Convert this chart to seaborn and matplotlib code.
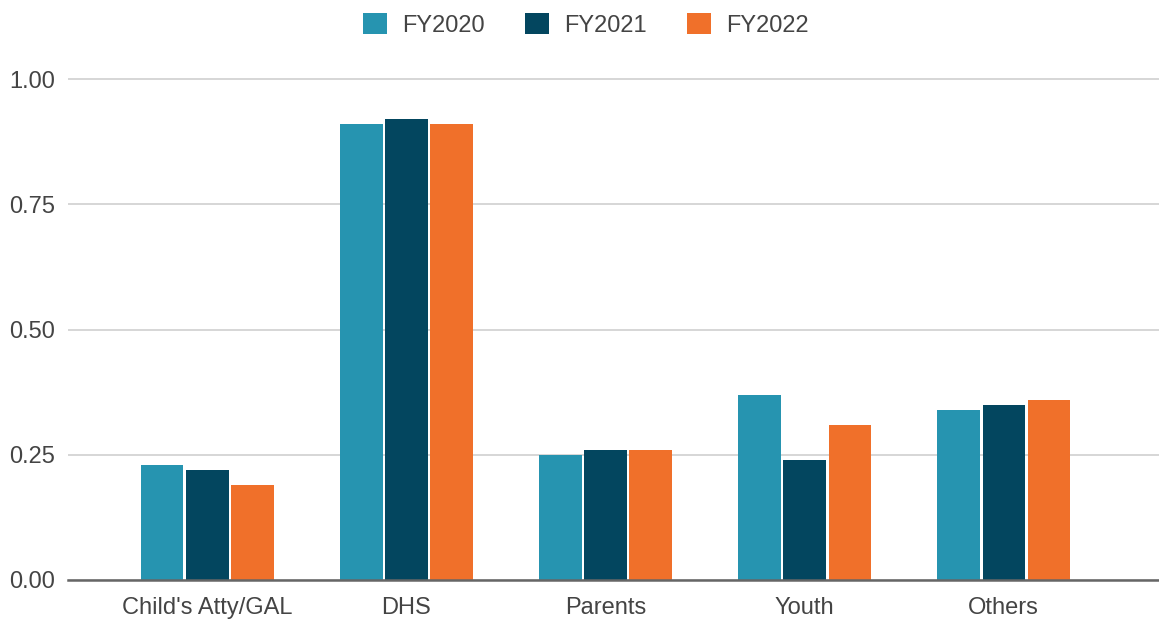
import matplotlib
matplotlib.use("Agg")
import matplotlib.pyplot as plt
import seaborn as sns
import pandas as pd

categories = ["Child's Atty/GAL", "DHS", "Parents", "Youth", "Others"]
years = ["FY2020", "FY2021", "FY2022"]
fy2020 = [0.23, 0.91, 0.25, 0.37, 0.34]
fy2021 = [0.22, 0.92, 0.26, 0.24, 0.35]
fy2022 = [0.19, 0.91, 0.26, 0.31, 0.36]
colors = ["#2694b0", "#03465f", "#f0702a"]

rows = []
for yr, vals in zip(years, [fy2020, fy2021, fy2022]):
    for c, v in zip(categories, vals):
        rows.append({"cat": c, "year": yr, "val": v})
df = pd.DataFrame(rows)

sns.set_theme(style="white")
plt.rcParams['font.family'] = ['Liberation Sans', 'DejaVu Sans']

fig = plt.figure(figsize=(11.59, 6.19), dpi=100)
ax = fig.add_axes([68/1159, (619-580)/619, (1159-68)/1159, (580-59)/619])

sns.barplot(data=df, x="cat", y="val", hue="year", order=categories,
            hue_order=years, palette=colors, width=0.68, gap=0.06,
            saturation=1, ax=ax, edgecolor="none")

ax.set_xlim(-0.70, 4.78)
ax.set_ylim(0, 1.04)
ax.set_yticks([0, 0.25, 0.5, 0.75, 1.0])
ax.set_yticklabels(["0.00", "0.25", "0.50", "0.75", "1.00"])
ax.yaxis.grid(True, color="#d0d0d0", linewidth=1.2)
ax.set_axisbelow(True)
for s in ["top", "right", "left"]:
    ax.spines[s].set_visible(False)
ax.spines["bottom"].set_color("#666666")
ax.spines["bottom"].set_linewidth(1.8)
ax.tick_params(axis="both", length=0, labelsize=17, labelcolor="#444444")
ax.tick_params(axis="y", pad=9)
ax.tick_params(axis="x", pad=12)
ax.set_xlabel("")
ax.set_ylabel("")

leg = ax.legend(loc="center", bbox_to_anchor=(586/1159, 1 - 25/619),
                bbox_transform=fig.transFigure,
                ncol=3, frameon=False, fontsize=17, handlelength=1.0, handleheight=1.0,
                columnspacing=1.7, handletextpad=0.65)
for t in leg.get_texts():
    t.set_color("#444444")

fig.savefig("out.png", dpi=100)
